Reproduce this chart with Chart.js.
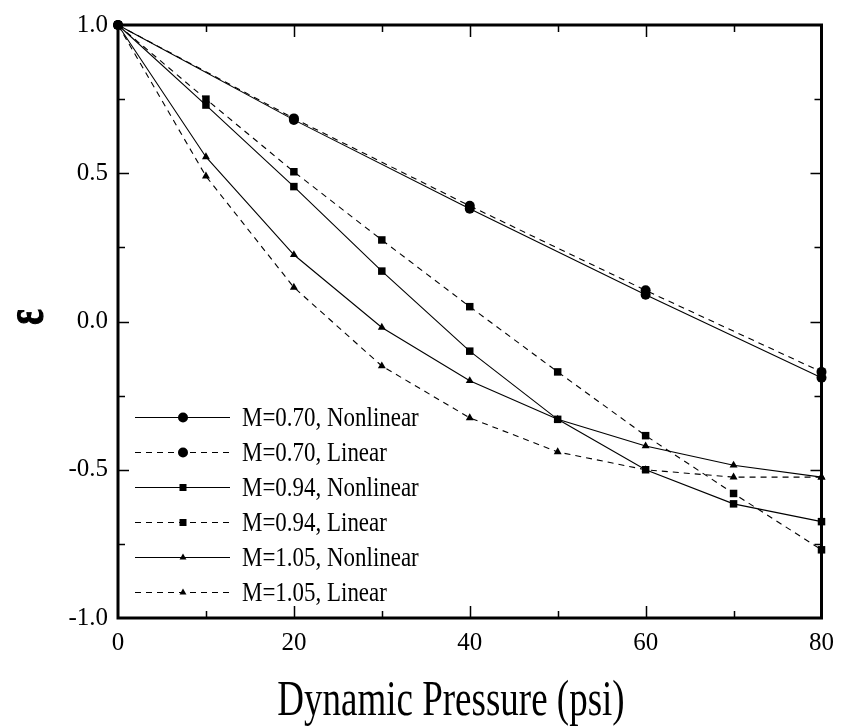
<!DOCTYPE html>
<html>
<head>
<meta charset="utf-8">
<script src="https://cdn.jsdelivr.net/npm/chart.js@4/dist/chart.umd.min.js"></script>
<style>
html, body { margin: 0; padding: 0; background: #fff; }
</style>
</head>
<body>
<canvas id="chartEps" width="844" height="728"></canvas>
<script>
// dados
const pressure70 = [0, 20, 40, 60, 80];
const pressure = [0, 10, 20, 30, 40, 50, 60, 70, 80];

const eps70Nonlin = [1.0, 0.68, 0.38, 0.09, -0.19];
const eps70Lin = [1.0, 0.685, 0.39, 0.105, -0.17];
const eps94Nonlin = [1.0, 0.73, 0.455, 0.17, -0.10, -0.33, -0.50, -0.615, -0.675];
const eps94Lin = [1.0, 0.75, 0.505, 0.275, 0.05, -0.17, -0.385, -0.58, -0.77];
const eps105Nonlin = [1.0, 0.555, 0.225, -0.02, -0.20, -0.33, -0.42, -0.485, -0.525];
const eps105Lin = [1.0, 0.49, 0.115, -0.15, -0.325, -0.44, -0.50, -0.525, -0.525];

const seriesLabels = [
    'M=0.70, Nonlinear', 'M=0.70, Linear',
    'M=0.94, Nonlinear', 'M=0.94, Linear',
    'M=1.05, Nonlinear', 'M=1.05, Linear'
];
const xTicks = [0, 20, 40, 60, 80];
const yTicks = [-1.0, -0.5, 0.0, 0.5, 1.0];
const xTitle = 'Dynamic Pressure (psi)';
const yTitle = 'ε';

const FONT = '"Liberation Serif", "Times New Roman", serif';
const DASH = [6, 5];

function toPoints(xs, ys) {
    return xs.map((x, i) => ({ x, y: ys[i] }));
}

function makeSet(label, xs, ys, style, dashed) {
    const r = style === 'circle' ? 5 : (style === 'rect' ? 5.3 : 4.6);
    return {
        label,
        data: toPoints(xs, ys),
        borderColor: '#000',
        backgroundColor: '#000',
        borderWidth: 1.1,
        borderDash: dashed ? DASH : [],
        pointStyle: style,
        pointRadius: r,
        pointBorderWidth: 0,
        pointBackgroundColor: '#000',
        tension: 0,
        clip: false
    };
}

const datasets = [
    makeSet(seriesLabels[0], pressure70, eps70Nonlin, 'circle', false),
    makeSet(seriesLabels[1], pressure70, eps70Lin, 'circle', true),
    makeSet(seriesLabels[2], pressure, eps94Nonlin, 'rect', false),
    makeSet(seriesLabels[3], pressure, eps94Lin, 'rect', true),
    makeSet(seriesLabels[4], pressure, eps105Nonlin, 'triangle', false),
    makeSet(seriesLabels[5], pressure, eps105Lin, 'triangle', true)
];

function marker(ctx, style, x, y) {
    ctx.beginPath();
    if (style === 'circle') {
        ctx.arc(x, y, 5, 0, Math.PI * 2);
    } else if (style === 'rect') {
        ctx.rect(x - 3.5, y - 3.5, 7, 7);
    } else {
        const r = 4;
        ctx.moveTo(x, y - r);
        ctx.lineTo(x + r * 0.866, y + r * 0.5);
        ctx.lineTo(x - r * 0.866, y + r * 0.5);
        ctx.closePath();
    }
    ctx.fill();
}

// moldura, ticks internos, legenda e titulos
const framePlugin = {
    id: 'framePlugin',
    afterDraw(chart) {
        const ctx = chart.ctx;
        const a = chart.chartArea;
        const xs = chart.scales.x;
        const ys = chart.scales.y;
        ctx.save();
        ctx.strokeStyle = '#000';
        ctx.fillStyle = '#000';

        // ticks
        ctx.lineWidth = 1.5;
        for (let v = 10; v < 80; v += 10) {
            const px = Math.round(xs.getPixelForValue(v)) + 0.5;
            const len = v % 20 === 0 ? 12 : 7;
            ctx.beginPath();
            ctx.moveTo(px, a.bottom); ctx.lineTo(px, a.bottom - len);
            ctx.moveTo(px, a.top); ctx.lineTo(px, a.top + len);
            ctx.stroke();
        }
        for (let v = -0.75; v < 1; v += 0.25) {
            const py = Math.round(ys.getPixelForValue(v)) + 0.5;
            const len = Math.abs(v * 2 - Math.round(v * 2)) < 1e-6 ? 11 : 7;
            ctx.beginPath();
            ctx.moveTo(a.left, py); ctx.lineTo(a.left + len, py);
            ctx.moveTo(a.right, py); ctx.lineTo(a.right - len, py);
            ctx.stroke();
        }

        // moldura
        ctx.lineWidth = 3;
        ctx.strokeRect(a.left, a.top, a.right - a.left, a.bottom - a.top);

        // legenda
        const styles = ['circle', 'circle', 'rect', 'rect', 'triangle', 'triangle'];
        chart.data.datasets.forEach((ds, i) => {
            const y = 417 + i * 35;
            ctx.lineWidth = 1;
            ctx.setLineDash(ds.borderDash);
            ctx.beginPath();
            ctx.moveTo(135, y + 0.5); ctx.lineTo(230, y + 0.5);
            ctx.stroke();
            ctx.setLineDash([]);
            marker(ctx, styles[i], 183, y + 0.5);
            ctx.save();
            ctx.translate(242, y + 9);
            ctx.scale(0.85, 1);
            ctx.font = '27px ' + FONT;
            ctx.textAlign = 'left';
            ctx.textBaseline = 'alphabetic';
            ctx.fillText(ds.label, 0, 0);
            ctx.restore();
        });

        // titulo x
        ctx.save();
        ctx.translate(451, 715);
        ctx.scale(0.74, 1);
        ctx.font = '50px ' + FONT;
        ctx.textAlign = 'center';
        ctx.textBaseline = 'alphabetic';
        ctx.fillText(xTitle, 0, 0);
        ctx.restore();

        // titulo y (epsilon girado)
        ctx.save();
        ctx.translate(30, 317);
        ctx.rotate(-Math.PI / 2);
        ctx.scale(0.7, 1);
        ctx.font = 'bold 52px ' + FONT;
        ctx.textAlign = 'center';
        ctx.textBaseline = 'alphabetic';
        ctx.lineWidth = 1.2;
        ctx.fillText(yTitle, 0, 12);
        ctx.strokeText(yTitle, 0, 12);
        ctx.restore();

        ctx.restore();
    }
};

new Chart(document.getElementById('chartEps'), {
    type: 'line',
    data: { datasets },
    options: {
        responsive: false,
        animation: false,
        devicePixelRatio: 1,
        layout: { padding: { top: 17, right: 19, left: 0, bottom: 0 } },
        plugins: {
            legend: { display: false },
            tooltip: { enabled: false }
        },
        scales: {
            x: {
                type: 'linear',
                min: 0,
                max: 80,
                afterFit: s => { s.height = 110; },
                afterBuildTicks: s => { s.ticks = xTicks.map(v => ({ value: v })); },
                grid: { display: false, drawTicks: false },
                border: { display: false },
                ticks: {
                    color: '#000',
                    padding: 10,
                    font: { family: FONT, size: 25 },
                    callback: v => String(v)
                }
            },
            y: {
                type: 'linear',
                min: -1,
                max: 1,
                afterFit: s => { s.width = 118; },
                afterBuildTicks: s => { s.ticks = yTicks.map(v => ({ value: v })); },
                grid: { display: false, drawTicks: false },
                border: { display: false },
                ticks: {
                    color: '#000',
                    padding: 10,
                    font: { family: FONT, size: 25 },
                    callback: v => Number(v).toFixed(1)
                }
            }
        }
    },
    plugins: [framePlugin]
});
</script>
</body>
</html>
